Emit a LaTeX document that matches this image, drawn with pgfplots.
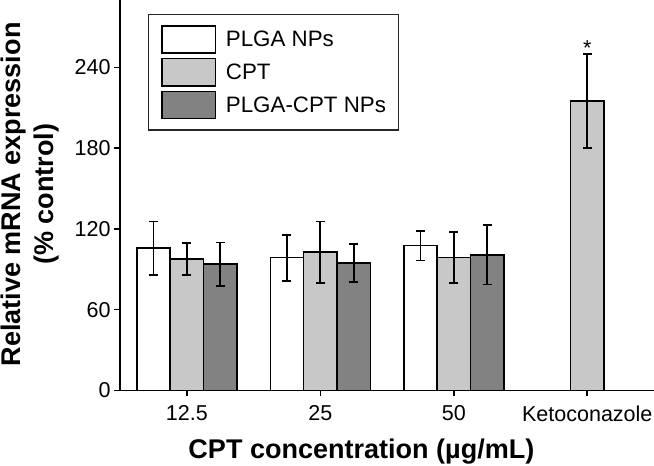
\documentclass[border=0pt]{standalone}
\usepackage{pgfplots}
\pgfplotsset{compat=1.18}
\usepackage{fontspec}
\setmainfont{Liberation Sans}
\definecolor{cptgray}{RGB}{200,200,200}
\definecolor{darkgray2}{RGB}{130,130,130}
\pgfplotsset{
  myerr/.style={
    error bars/y dir=both, error bars/y explicit,
    error bars/error bar style={line width=1.8pt, black},
    error bars/error mark options={rotate=90, mark size=4.5pt, line width=1.8pt, black},
  }
}
\begin{document}
\begin{tikzpicture}
\begin{axis}[
  scale only axis,
  width=533.3pt, height=390pt,
  xmin=-0.5, xmax=3.5, ymin=0, ymax=290,
  axis x line=bottom, axis y line=left,
  axis line style={-, line width=1.8pt},
  tick align=outside,
  major tick length=6pt,
  tick style={line width=1.6pt, black},
  xtick={0,1,2,3},
  xticklabels={12.5,25,50,Ketoconazole},
  ytick={0,60,120,180,240},
  /pgf/number format/assume math mode=true,
  tick label style={font=\fontsize{21.5}{25}\selectfont},
  xticklabel style={yshift=-6pt},
  ybar, ybar=0pt, bar width=33.3pt,
  xlabel={CPT concentration (µg/mL)},
  xlabel style={font=\bfseries\fontsize{27}{32}\selectfont, at={(axis description cs:0.452,-0.1736)}, anchor=base},
  ylabel={Relative mRNA expression\\(\% control)},
  ylabel style={font=\bfseries\fontsize{27}{33}\selectfont, align=center, at={(axis description cs:-0.169,0.502)}, anchor=center},
  legend style={at={(axis description cs:0.0525,0.964)}, anchor=north west,
    draw=black!85, line width=1.2pt, font=\fontsize{22.3}{26}\selectfont,
    inner xsep=12.7pt, inner ysep=10.7pt, row sep=4.3pt,
    nodes={inner sep=0pt},
    /tikz/every odd column/.append style={column sep=10pt}},
  legend cell align=left,
  legend image code/.code={\draw[#1, line width=1.4pt] (0pt,-13.5pt) rectangle (53pt,13.5pt);},
]
\addplot[fill=white, draw=black, line width=1.6pt, myerr] coordinates {
  (0,105.6) +- (0,19.9)
  (1,98.6) +- (0,17.1)
  (2,107.5) +- (0,11.0)
};
\addlegendentry{PLGA NPs}
\addplot[fill=cptgray, draw=black, line width=1.6pt, myerr] coordinates {
  (0,97.6) +- (0,11.9)
  (1,102.6) +- (0,22.8)
  (2,98.6) +- (0,18.8)
  (3,215.1) +- (0,35.0)
};
\addlegendentry{CPT}
\addplot[fill=darkgray2, draw=black, line width=1.6pt, myerr] coordinates {
  (0,93.7) +- (0,16.1)
  (1,94.7) +- (0,13.9)
  (2,100.6) +- (0,22.0)
};
\addlegendentry{PLGA-CPT NPs}
\node[font=\fontsize{21.5}{25}\selectfont, anchor=base] at (axis cs:3,249) {*};
\end{axis}
\pgfresetboundingbox
\path[use as bounding box] (-120pt,-74.7pt) rectangle (533.3pt,390pt);
\end{tikzpicture}
\end{document}
